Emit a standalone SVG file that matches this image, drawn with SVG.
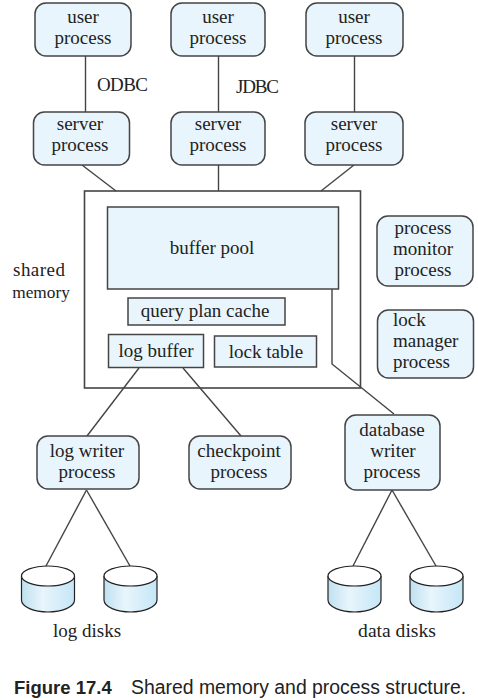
<svg xmlns="http://www.w3.org/2000/svg" width="478" height="700" viewBox="0 0 478 700">
<defs>
<linearGradient id="disk" x1="0" x2="1" y1="0" y2="0"><stop offset="0" stop-color="#bfe0f0"/><stop offset="0.4" stop-color="#e8f5fc"/><stop offset="1" stop-color="#c5e6f7"/></linearGradient>
</defs>
<style>
text{font-family:"Liberation Serif","Times New Roman",serif;font-size:19px;fill:#222;text-anchor:middle}
.n{fill:#e8f5fc;stroke:#444;stroke-width:1.5}
.c line,.c path{stroke:#444;stroke-width:1.4;fill:none}
.d{fill:url(#disk);stroke:#222;stroke-width:1.2}
.t{fill:#fff;stroke:#222;stroke-width:1.2}
.cap{font-family:"Liberation Sans",Arial,sans-serif;font-size:19.4px;text-anchor:start;fill:#222}
</style>
<rect width="478" height="700" fill="#fff"/>
<g id="shared-memory"><rect x="84.500" y="191" width="276" height="197" fill="#fff" stroke="#444" stroke-width="1.6"/></g>
<g id="connectors" class="c">
<line x1="85.500" y1="56" x2="85.500" y2="112"/>
<line x1="218.500" y1="56" x2="218.500" y2="112"/>
<line x1="354.500" y1="56" x2="354.500" y2="112"/>
<line x1="82" y1="165" x2="116" y2="191"/>
<line x1="218.500" y1="165" x2="218.500" y2="191"/>
<line x1="354" y1="165" x2="321" y2="191"/>
<line x1="139" y1="368" x2="87" y2="436"/>
<line x1="183" y1="368" x2="241" y2="436"/>
<path d="M332 288V364L394 414"/>
<line x1="86.500" y1="490" x2="46" y2="566"/>
<line x1="86.500" y1="490" x2="130" y2="566"/>
<line x1="392" y1="490" x2="353" y2="566"/>
<line x1="392" y1="490" x2="436" y2="566"/>
</g>
<g id="buffer-pool"><rect class="n" x="107.500" y="207" width="231" height="82"/><text x="212" y="254">buffer pool</text></g>
<g id="query-plan-cache"><rect class="n" x="128" y="298" width="157" height="27"/><text x="205" y="317">query plan cache</text></g>
<g id="log-buffer"><rect class="n" x="108.500" y="334.500" width="95" height="33"/><text x="156" y="357">log buffer</text></g>
<g id="lock-table"><rect class="n" x="214.500" y="336" width="102" height="31"/><text x="266" y="358">lock table</text></g>
<g id="user1"><rect class="n" x="35" y="3" width="96" height="53" rx="11"/><text x="83" y="23">user</text><text x="83" y="44">process</text></g>
<g id="user2"><rect class="n" x="171" y="3" width="94" height="53" rx="11"/><text x="218" y="23">user</text><text x="218" y="44">process</text></g>
<g id="user3"><rect class="n" x="306" y="3" width="97" height="53" rx="11"/><text x="354" y="23">user</text><text x="354" y="44">process</text></g>
<g id="server1"><rect class="n" x="33.500" y="112" width="96" height="53" rx="11"/><text x="80" y="130">server</text><text x="80" y="151">process</text></g>
<g id="server2"><rect class="n" x="171" y="112" width="94" height="53" rx="11"/><text x="218" y="130">server</text><text x="218" y="151">process</text></g>
<g id="server3"><rect class="n" x="305" y="112" width="98" height="53" rx="11"/><text x="354" y="130">server</text><text x="354" y="151">process</text></g>
<g id="odbc"><text x="122.500" y="91" textLength="51">ODBC</text></g>
<g id="jdbc"><text x="257.500" y="93" textLength="43">JDBC</text></g>
<g id="shared-label"><text x="39" y="276" textLength="52">shared</text><text x="41" y="298" style="font-size:17.3px">memory</text></g>
<g id="monitor"><rect class="n" x="377" y="216" width="96" height="70" rx="11"/><text x="423" y="234">process</text><text x="423" y="255">monitor</text><text x="423" y="276">process</text></g>
<g id="lock-manager"><rect class="n" x="377.500" y="310" width="96" height="68" rx="11"/><text x="393" y="326" style="text-anchor:start">lock</text><text x="393" y="347" style="text-anchor:start">manager</text><text x="393" y="368" style="text-anchor:start">process</text></g>
<g id="log-writer"><rect class="n" x="37" y="436" width="102" height="53" rx="11"/><text x="87" y="457">log writer</text><text x="87" y="478">process</text></g>
<g id="checkpoint"><rect class="n" x="189" y="436" width="102" height="53" rx="11"/><text x="239" y="457">checkpoint</text><text x="239" y="478">process</text></g>
<g id="db-writer"><rect class="n" x="345" y="415" width="95" height="75" rx="11"/><text x="392" y="436">database</text><text x="393" y="457">writer</text><text x="392" y="478">process</text></g>
<g id="disk1"><path class="d" d="M21.500 576V600C21.500 607 34 612 48 612S74.500 607 74.500 600V576"/><ellipse class="t" cx="48" cy="576" rx="26.500" ry="10"/></g>
<g id="disk2"><path class="d" d="M104 576V600C104 607 117 612 130.500 612S157 607 157 600V576"/><ellipse class="t" cx="130.500" cy="576" rx="26.500" ry="10"/></g>
<g id="disk3"><path class="d" d="M328 576V600C328 607 341 612 354.500 612S381 607 381 600V576"/><ellipse class="t" cx="354.500" cy="576" rx="26.500" ry="10"/></g>
<g id="disk4"><path class="d" d="M410 576V600C410 607 423 612 436.500 612S463 607 463 600V576"/><ellipse class="t" cx="436.500" cy="576" rx="26.500" ry="10"/></g>
<g id="log-disks"><text x="87" y="637">log disks</text></g>
<g id="data-disks"><text x="397" y="637" style="font-size:19.6px">data disks</text></g>
<text class="cap" x="14" y="694" style="font-weight:bold;font-size:18.5px">Figure 17.4</text>
<text class="cap" x="131" y="694">Shared memory and process structure.</text>
</svg>
